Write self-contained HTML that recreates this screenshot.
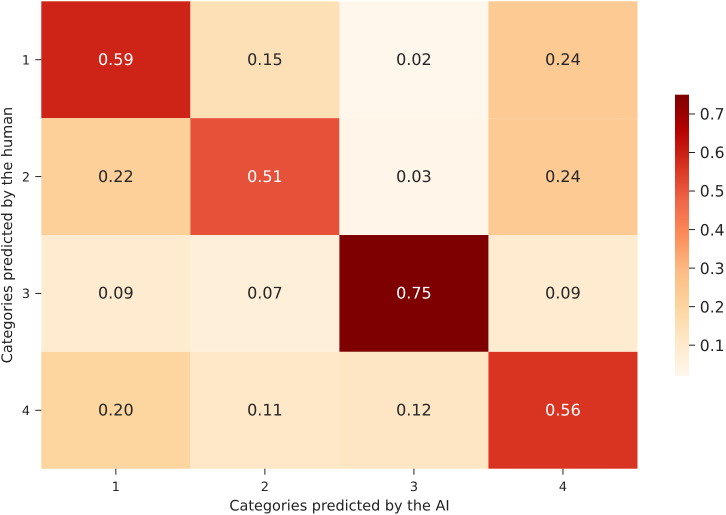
<!DOCTYPE html>
<html>
<head>
<meta charset="utf-8">
<style>
html,body{margin:0;padding:0;background:#fff;width:726px;height:515px;overflow:hidden}
svg{display:block}
text{font-family:"DejaVu Sans","Liberation Sans",sans-serif;text-rendering:geometricPrecision}
</style>
</head>
<body>
<svg id="chart" xmlns="http://www.w3.org/2000/svg" width="726" height="515" viewBox="0 0 726 515"></svg>
<script>
const xCategories = ['1', '2', '3', '4'];
const yCategories = ['1', '2', '3', '4'];
const row1Values = [0.59, 0.15, 0.02, 0.24];
const row2Values = [0.22, 0.51, 0.03, 0.24];
const row3Values = [0.09, 0.07, 0.75, 0.09];
const row4Values = [0.20, 0.11, 0.12, 0.56];
const matrixRows = [row1Values, row2Values, row3Values, row4Values];
const colorbarTicks = [0.1, 0.2, 0.3, 0.4, 0.5, 0.6, 0.7];
const xAxisTitle = 'Categories predicted by the AI';
const yAxisTitle = 'Categories predicted by the human';

const NS = 'http://www.w3.org/2000/svg';
const svg = document.getElementById('chart');
const ramp = ['#fff7ec','#fee8c8','#fdd49e','#fdbb84','#fc8d59','#ef6548','#d7301f','#b30000','#7f0000'];
const plot = {left: 41.3, right: 637.5, top: 1.3, bottom: 468.7};
const bar = {left: 675, right: 689, top: 94.7, bottom: 376};

const allValues = matrixRows.flat();
const vMin = Math.min.apply(null, allValues);
const vMax = Math.max.apply(null, allValues);

function xBand(i) { return plot.left + i * (plot.right - plot.left) / xCategories.length; }
function yBand(i) { return plot.top + i * (plot.bottom - plot.top) / yCategories.length; }
function barY(v) { return bar.bottom - (v - vMin) / (vMax - vMin) * (bar.bottom - bar.top); }
function hex(c) { return [1, 3, 5].map(function (p) { return parseInt(c.substr(p, 2), 16); }); }
function colorOf(v) {
  const t = Math.max(0, Math.min(1, (v - vMin) / (vMax - vMin))) * (ramp.length - 1);
  const i = Math.min(ramp.length - 2, Math.floor(t));
  const a = hex(ramp[i]), b = hex(ramp[i + 1]), f = t - i;
  return 'rgb(' + a.map(function (x, k) { return Math.round(x + (b[k] - x) * f); }).join(',') + ')';
}
function make(tag, attrs, text) {
  const el = document.createElementNS(NS, tag);
  Object.keys(attrs).forEach(function (k) { el.setAttribute(k, attrs[k]); });
  if (text !== undefined) el.textContent = text;
  svg.appendChild(el);
  return el;
}

matrixRows.forEach(function (row, r) {
  row.forEach(function (v, c) {
    const x0 = xBand(c), x1 = xBand(c + 1), y0 = yBand(r), y1 = yBand(r + 1);
    const cell = make('rect', {x: x0, y: y0, width: x1 - x0, height: y1 - y0, fill: colorOf(v)});
    
    
    const t = (v - vMin) / (vMax - vMin);
    const label = make('text', {x: (x0 + x1) / 2, y: (y0 + y1) / 2 + 5.3, 'text-anchor': 'middle', 'font-size': 16, fill: t > 0.55 ? '#ffffff' : '#262626'}, v.toFixed(2));
    
    
  });
});

xCategories.forEach(function (name, i) {
  const x = (xBand(i) + xBand(i + 1)) / 2;
  const tick = make('line', {x1: x, x2: x, y1: plot.bottom, y2: plot.bottom + 6, stroke: '#222', 'stroke-width': 1});
  
  
  const label = make('text', {x: x, y: 491, 'text-anchor': 'middle', 'font-size': 12.8, fill: '#222'}, name);
  
  
});

yCategories.forEach(function (name, i) {
  const y = (yBand(i) + yBand(i + 1)) / 2;
  const tick = make('line', {x1: plot.left - 6, x2: plot.left, y1: y, y2: y, stroke: '#222', 'stroke-width': 1});
  
  
  const label = make('text', {x: 26, y: y + 4.7, 'text-anchor': 'middle', 'font-size': 12.8, fill: '#222'}, name);
  
  
});

const xTitle = make('text', {x: 339.5, y: 510.5, 'text-anchor': 'middle', 'font-size': 14.45, fill: '#222'}, xAxisTitle);



const yTitle = make('text', {x: 0, y: 0, transform: 'translate(12,235) rotate(-90)', 'text-anchor': 'middle', 'font-size': 14.45, fill: '#222'}, yAxisTitle);



const defs = make('defs', {});
const grad = document.createElementNS(NS, 'linearGradient');
grad.setAttribute('id', 'cbar');
grad.setAttribute('x1', '0'); grad.setAttribute('x2', '0');
grad.setAttribute('y1', '1'); grad.setAttribute('y2', '0');
ramp.forEach(function (c, i) {
  const s = document.createElementNS(NS, 'stop');
  s.setAttribute('offset', i / (ramp.length - 1));
  s.setAttribute('stop-color', c);
  grad.appendChild(s);
});
defs.appendChild(grad);

const cbar = make('rect', {x: bar.left, y: bar.top, width: bar.right - bar.left, height: bar.bottom - bar.top, fill: 'url(#cbar)'});



colorbarTicks.forEach(function (v) {
  const y = barY(v);
  const tick = make('line', {x1: bar.right, x2: bar.right + 6, y1: y, y2: y, stroke: '#222', 'stroke-width': 1});
  
  
  const label = make('text', {x: 699.8, y: y + 5.7, 'font-size': 15.6, fill: '#222'}, v.toFixed(1));
  
  
});
</script>
</body>
</html>
